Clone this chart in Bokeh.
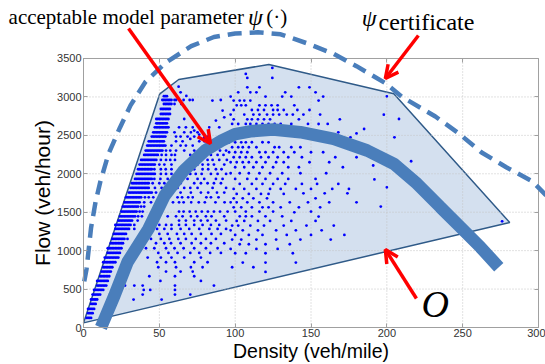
from bokeh.plotting import figure
from bokeh.models import Range1d, FixedTicker, Arrow, OpenHead, Label, LinearAxis
from bokeh.embed import file_html
from bokeh.resources import INLINE

# ---------------- data ----------------
X_TICKS = [0, 50, 100, 150, 200, 250, 300]
Y_TICKS = [0, 500, 1000, 1500, 2000, 2500, 3000, 3500]

# region O (convex polygon of acceptable data)
REGION_K = [0, 50.3, 62.8, 122.2, 204.6, 281]
REGION_Q = [60, 3040, 3227, 3422, 3040, 1366]

# acceptable model parameter psi(.)  (thick curve)
PSI_K = [11.5, 13, 20.4, 29, 42.8, 53.5, 66, 80, 91, 100, 110, 125, 143, 165, 187, 204.6, 220, 235.3, 248.5, 261.7, 273.8]
PSI_Q = [0, 70, 416, 850, 1282, 1716, 2040, 2300, 2430, 2515, 2553, 2575, 2541, 2455, 2303, 2130, 1870, 1565, 1305, 1045, 785]

# psi_certificate (dashed curve)
CERT_K = [0.5, 2, 5, 8, 11, 16.5, 24, 31, 41, 54.5, 71, 86, 100, 115, 130, 147, 165, 180, 199, 210, 232, 247.5, 262.5, 279, 296, 305]
CERT_Q = [600, 760, 1300, 1640, 1890, 2260, 2600, 2890, 3200, 3450, 3660, 3780, 3825, 3840, 3815, 3700, 3560, 3400, 3180, 3000, 2745, 2524, 2277, 2082, 1900, 1720]

# dense streak of measurements near the free-flow side: one row per flow level
DENSE_Q = [3010, 2960, 2908, 2843, 2778, 2713, 2657, 2605, 2540, 2484, 2423, 2367, 2302, 2245, 2180, 2120,
           2059, 1998, 1933, 1877, 1816, 1755, 1694, 1629, 1573, 1508, 1447, 1391, 1335, 1282, 1217,
           1152, 1096, 1031, 970, 910, 849, 784, 728, 667, 606, 546, 489, 429, 364, 307, 242, 186, 125]
DENSE_K0 = [53, 52, 53, 51, 51, 48, 48, 47, 46, 45, 43, 42, 41, 40, 38, 37,
            36, 35, 34, 32, 31, 30, 28, 27, 26, 25, 24, 23, 21, 21, 20,
            19, 18, 16, 16, 14, 13, 13, 12, 11, 9, 9, 7, 6, 5, 5, 3, 3, 2]
DENSE_K1 = [55, 57, 58, 57, 57, 56, 55, 56, 55, 54, 53, 54, 52, 49, 48, 47,
            45, 47, 45, 43, 43, 45, 38, 37, 36, 35, 34, 32, 31, 30, 28,
            27, 26, 25, 24, 23, 21, 19, 18, 17, 16, 15, 13, 11, 9, 8, 7, 6, 5]

# isolated measurements (density veh/mile, flow veh/hour)
SPARSE_K = [
    58, 60, 61, 66, 70, 72, 63, 67.5, 72, 60, 66.4, 70.8, 75.2, 61, 64, 68.6, 73, 80, 82,
    61, 65.3, 76.3, 79.6, 83, 58, 64, 67.5, 72, 54.4, 57.2, 61, 66.4, 73, 77.4, 81.8, 86, 90, 94,
    51.5, 54.4, 58, 60.3, 70.4, 74, 79.6, 84, 88.4, 92.3, 51, 54.4, 57.2, 60.3, 72.6, 76.3, 81.8, 85.1, 89.5, 94.5,
    50, 53.3, 58, 75.2, 78.5, 82.2, 86, 92.8, 46.7, 51, 54.2, 58, 68.6, 73, 78.5, 82.2, 87.3, 91,
    51, 54.4, 58, 65.3, 70.4, 74, 77.9, 84, 88.4, 94, 46.7, 50.7, 55.5, 59.4, 63, 68.6, 75.2, 79.6, 87.3, 91.7,
    45.6, 50, 53.3, 56.6, 60, 64, 73, 77.4, 81.8, 86, 90.6, 47.1, 51.5, 54.4, 58, 62, 66.4, 70.4, 75.2, 85.1, 94,
    47.8, 53.3, 58, 64, 70.8, 77.4, 82.2, 88, 92.8,
    40.5, 43, 46, 62, 65, 69, 72, 81, 84, 89, 40, 44.5, 59, 63, 66, 71, 76, 80, 87, 93, 38, 40,
    37, 39, 63, 66, 70, 74, 78, 82, 86, 90, 95, 36, 38.5, 55.5, 61, 65.3, 70.8, 75, 80.7, 84.4, 92.8,
    35.7, 63, 67.5, 73, 77.4, 81.8, 87.3, 94, 33.5, 50, 54.4, 58, 63, 67.5, 73, 78.5, 84, 89.5,
    33.5, 48.5, 53.3, 58, 64, 69.7, 76.3, 83, 88.4, 94, 50, 55.5, 61.6, 66.4, 71.3, 77.4, 84.4, 90.6,
    29, 44.5, 51, 56.6, 62.5, 67.5, 74, 80.7, 87.3, 47.8, 53.3, 57.7, 64, 71.3, 77.4, 84, 92.8,
    41.2, 46.7, 54.4, 60, 66, 73, 80.7, 88.4, 49.3, 56, 62, 70.4, 76.3, 83.5, 90.6,
    42.3, 51, 58, 66.4, 77.4, 48.5, 54.4, 60.3, 73, 81.8, 49.3, 61, 70.8, 78.5, 54.4, 64, 72,
    43.4, 60.3, 73, 50.7, 77.4, 27.4, 33.5, 39, 60.3, 86, 39.7, 44, 60.3, 39, 60.3, 70.4, 33, 51.5,
    62.7, 64, 67.8, 85, 90.5, 91.7, 92.8, 87.3, 73, 70.4, 76.3, 82.9, 89.5, 79.6, 60, 64.5, 66.4,
    99, 105, 112, 121, 153, 97, 101, 108, 116, 125, 136, 148, 162, 180,
    99, 104, 111, 118, 122, 130, 142, 156, 100, 107, 116, 125, 150, 139,
    103, 107, 111, 120, 131, 155, 101, 106, 115, 123, 137, 153, 98, 102, 110, 119, 132, 147, 165,
    97, 105, 115, 127, 140, 157, 100, 109, 118, 134, 150, 172, 98, 104, 114, 127, 143, 163,
    103, 109, 120, 136, 97, 114, 128, 100, 107, 120, 138, 105, 120, 140, 98, 112, 120,
    145, 159, 174, 200, 196, 276,
    124.5, 107, 108, 124.5, 108, 116, 142, 149, 102, 110, 114, 133, 153, 97, 120, 131, 137, 158,
    99, 103, 106, 110, 155, 101, 104, 107, 116, 120, 124, 128, 139,
    99, 111, 115, 119, 125, 128, 132, 141, 149, 97, 106, 112, 116, 121, 125, 129, 134, 138, 145, 156,
    99, 108, 111, 115, 119, 123, 142, 169, 98, 102, 107, 110, 114, 118, 122, 126, 130, 137, 148, 155, 161,
    168, 176, 180, 185, 96, 100, 104, 107, 111, 118, 122, 98, 102, 105, 109, 114, 126, 129, 137, 143,
    96, 100, 104, 108, 116, 120, 125, 132, 139, 150, 158, 99, 103, 107, 111, 117, 122, 128, 135, 144, 166, 180,
    97, 101, 105, 109, 114, 120, 127, 132, 149, 162, 100, 106, 112, 118, 125, 135, 142, 171,
    97, 103, 109, 116, 123, 131, 143, 160, 100, 108, 114, 120, 128, 135, 153,
    103, 111, 118, 125, 133, 144, 154, 168, 99, 106, 114, 123, 130, 140, 150, 164, 175,
    101, 109, 117, 122, 132, 200, 198, 208, 205, 216, 191.8, 191,
]
SPARSE_Q = [
    2960, 2960, 2960, 2960, 2960, 2960, 2605, 2605, 2605, 2540, 2540, 2540, 2540, 2484, 2484, 2484, 2484, 2484, 2484,
    2423, 2423, 2423, 2423, 2423, 2367, 2367, 2367, 2367, 2302, 2302, 2302, 2302, 2302, 2302, 2302, 2302, 2302, 2302,
    2245, 2245, 2245, 2245, 2245, 2245, 2245, 2245, 2245, 2245, 2180, 2180, 2180, 2180, 2180, 2180, 2180, 2180, 2180, 2180,
    2120, 2120, 2120, 2120, 2120, 2120, 2120, 2120, 2059, 2059, 2059, 2059, 2059, 2059, 2059, 2059, 2059, 2059,
    1998, 1998, 1998, 1998, 1998, 1998, 1998, 1998, 1998, 1998, 1933, 1933, 1933, 1933, 1933, 1933, 1933, 1933, 1933, 1933,
    1877, 1877, 1877, 1877, 1877, 1877, 1877, 1877, 1877, 1877, 1877, 1816, 1816, 1816, 1816, 1816, 1816, 1816, 1816, 1816, 1816,
    1755, 1755, 1755, 1755, 1755, 1755, 1755, 1755, 1755,
    1694, 1694, 1694, 1694, 1694, 1694, 1694, 1694, 1694, 1694, 1629, 1629, 1629, 1629, 1629, 1629, 1629, 1629, 1629, 1629, 1573, 1573,
    1508, 1508, 1508, 1508, 1508, 1508, 1508, 1508, 1508, 1508, 1508, 1447, 1447, 1447, 1447, 1447, 1447, 1447, 1447, 1447, 1447,
    1391, 1391, 1391, 1391, 1391, 1391, 1391, 1391, 1335, 1335, 1335, 1335, 1335, 1335, 1335, 1335, 1335, 1335,
    1282, 1282, 1282, 1282, 1282, 1282, 1282, 1282, 1282, 1282, 1217, 1217, 1217, 1217, 1217, 1217, 1217, 1217,
    1152, 1152, 1152, 1152, 1152, 1152, 1152, 1152, 1152, 1096, 1096, 1096, 1096, 1096, 1096, 1096, 1096,
    1031, 1031, 1031, 1031, 1031, 1031, 1031, 1031, 970, 970, 970, 970, 970, 970, 970,
    910, 910, 910, 910, 910, 849, 849, 849, 849, 849, 784, 784, 784, 784, 728, 728, 728,
    667, 667, 667, 606, 606, 546, 546, 546, 546, 546, 489, 489, 489, 429, 429, 429, 364, 364,
    3134, 3060, 3013, 2952, 2960, 2822, 2735, 2692, 2562, 2453, 2510, 2605, 2605, 2466, 2908, 2908, 2713,
    1681, 1681, 1681, 1681, 1681, 1629, 1629, 1629, 1629, 1629, 1629, 1629, 1629, 1629,
    1564, 1564, 1564, 1564, 1564, 1564, 1564, 1564, 1508, 1508, 1508, 1508, 1508, 1499,
    1447, 1447, 1447, 1447, 1447, 1443, 1387, 1387, 1387, 1387, 1387, 1387, 1326, 1326, 1326, 1326, 1326, 1326, 1326,
    1265, 1265, 1265, 1265, 1265, 1265, 1204, 1204, 1204, 1204, 1204, 1204, 1144, 1144, 1144, 1144, 1144, 1144,
    1083, 1083, 1083, 1083, 1022, 1022, 1022, 966, 966, 966, 966, 845, 845, 845, 784, 784, 723,
    1746, 1746, 1746, 1824, 1573, 1382,
    3377, 3299, 3247, 3247, 3125, 3125, 3125, 3125, 3060, 3060, 3060, 3060, 3060, 3004, 3004, 3004, 3004, 3004,
    2952, 2952, 2952, 2952, 2952, 2891, 2891, 2891, 2891, 2891, 2891, 2891, 2891,
    2830, 2830, 2830, 2830, 2830, 2830, 2830, 2830, 2830, 2770, 2770, 2770, 2770, 2770, 2770, 2770, 2770, 2770, 2770, 2770,
    2709, 2709, 2709, 2709, 2709, 2709, 2709, 2709, 2648, 2648, 2648, 2648, 2648, 2648, 2648, 2648, 2648, 2648, 2648, 2648, 2648,
    2540, 2475, 2525, 2583, 2410, 2410, 2410, 2410, 2410, 2410, 2410, 2345, 2345, 2345, 2345, 2345, 2345, 2345, 2345, 2345,
    2280, 2280, 2280, 2280, 2280, 2280, 2280, 2280, 2280, 2280, 2280, 2215, 2215, 2215, 2215, 2215, 2215, 2215, 2215, 2215, 2215, 2215,
    2150, 2150, 2150, 2150, 2150, 2150, 2150, 2150, 2150, 2150, 2085, 2085, 2085, 2085, 2085, 2085, 2085, 2085,
    2007, 2007, 2007, 2007, 2007, 2007, 2007, 2007, 1933, 1933, 1933, 1933, 1933, 1933, 1933,
    1868, 1868, 1868, 1868, 1868, 1868, 1868, 1868, 1803, 1803, 1803, 1803, 1803, 1803, 1803, 1803, 1803,
    1738, 1738, 1738, 1738, 1738, 3008, 2769, 2713, 2475, 2163, 1926, 2108,
]

# ---------------- build point cloud ----------------
pts_k, pts_q = [], []
for q, k0, k1 in zip(DENSE_Q, DENSE_K0, DENSE_K1):
    for k in range(k0, k1 + 1):
        pts_k.append(k)
        pts_q.append(q)
n = min(len(SPARSE_K), len(SPARSE_Q))
pts_k += SPARSE_K[:n]
pts_q += SPARSE_Q[:n]

BLUE = "#4a7ebb"
AXIS_GRAY = "#a0a0a0"
X0, X1 = X_TICKS[0], X_TICKS[-1]
Y0, Y1 = Y_TICKS[0], Y_TICKS[-1]

# the frame fills the whole canvas; the axes sit at the data box edges (fixed_location)
p = figure(width=545, height=364, output_backend="svg", toolbar_location=None,
           x_range=Range1d(-54.73, 304.6), y_range=Range1d(-481.4, 4254.6),
           min_border=0, background_fill_color="white", border_fill_color="white")
p.outline_line_color = None
p.xgrid.visible = False
p.ygrid.visible = False

for ax, ticks, loc, bounds in ((p.xaxis[0], X_TICKS, Y0, (X0, X1)), (p.yaxis[0], Y_TICKS, X0, (Y0, Y1))):
    ax.fixed_location = loc
    ax.bounds = bounds
    ax.ticker = FixedTicker(ticks=ticks)
    ax.major_tick_in = 4
    ax.major_tick_out = 0
    ax.minor_tick_line_color = None
    ax.axis_line_color = AXIS_GRAY
    ax.major_tick_line_color = AXIS_GRAY
    ax.major_label_text_font = "Liberation Sans"
    ax.major_label_text_font_size = "11px"
    ax.major_label_text_color = "#333333"
    ax.major_label_standoff = 2
    ax.axis_label_text_font = "Liberation Sans"
    ax.axis_label_text_font_style = "normal"
    ax.axis_label_text_color = "#000000"
    ax.axis_label_standoff = 0
p.xaxis.axis_label = "Density (veh/mile)"
p.xaxis.axis_label_text_font_size = "19.5px"
p.xaxis.major_label_standoff = 1
p.yaxis.axis_label = "Flow (veh/hour)"
p.yaxis.axis_label_text_font_size = "21px"

# matlab-style box ticks on the right and top sides (no labels)
for side, ticks, loc, bounds in (("right", Y_TICKS, X1, (Y0, Y1)), ("above", X_TICKS, Y1, (X0, X1))):
    ax = LinearAxis(fixed_location=loc, bounds=bounds, ticker=FixedTicker(ticks=ticks),
                    major_tick_in=4, major_tick_out=0, minor_tick_line_color=None,
                    axis_line_color=None, major_tick_line_color=AXIS_GRAY,
                    major_label_text_color=None)
    p.add_layout(ax, side)

# region O
p.patch(REGION_K, REGION_Q, fill_color="#d4e0ef", line_color="#2f5a88", line_width=1.5)

# dotted grid inside the axes box
gx = X_TICKS[1:-1]
gy = Y_TICKS[1:-1]
p.segment(x0=gx, y0=[Y0] * len(gx), x1=gx, y1=[Y1] * len(gx), line_color="#c3c3c3", line_dash="1 2", line_width=1)
p.segment(x0=[X0] * len(gy), y0=gy, x1=[X1] * len(gy), y1=gy, line_color="#c3c3c3", line_dash="1 2", line_width=1)

# axes box
p.quad(left=[X0], right=[X1], bottom=[Y0], top=[Y1], fill_color=None, line_color=AXIS_GRAY, line_width=1)

# measurements
p.scatter(pts_k, pts_q, marker="circle", size=2.8, fill_color="#0000ff", line_color=None)

# acceptable model parameter
p.line(PSI_K, PSI_Q, line_width=12.5, line_color=BLUE, line_cap="butt")

# certificate (dashed)
p.line(CERT_K, CERT_Q, line_color=BLUE, line_width=4.5, line_dash="14 8")

# arrows
RED = "#ff0000"
for (x0, y0, x1, y1) in ((29.7, 3890, 83.7, 2394), (220.8, 3799, 199, 3240), (219.5, 377, 199, 1015)):
    p.add_layout(Arrow(x_start=x0, y_start=y0, x_end=x1, y_end=y1, line_color=RED, line_width=3.5,
                       end=OpenHead(size=13, line_color=RED, line_width=3.5)))

# texts
SERIF = "Liberation Serif"
def add_text(x, y, text, size, style="normal"):
    p.add_layout(Label(x=x, y=y, text=text, text_font=SERIF, text_font_style=style,
                       text_font_size=size, text_color="#000000", text_baseline="alphabetic"))

add_text(-49.4, 4038, "acceptable model parameter", "21px")
add_text(108.5, 4045, "ψ", "24px", "italic")
add_text(120.5, 4038, "(·)", "21px")
add_text(183.5, 4030, "ψ", "24px", "italic")
add_text(194.5, 3975, "certificate", "24px")
add_text(222.8, 312, "O", "38px", "italic")

open("out.html", "w").write(file_html(p, INLINE))
